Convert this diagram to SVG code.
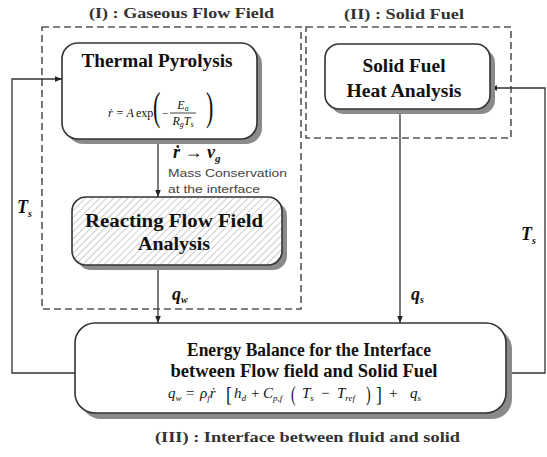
<svg xmlns="http://www.w3.org/2000/svg" width="547" height="457" viewBox="0 0 547 457">
<defs>
<style>
.dash{fill:none;stroke:#555;stroke-width:1.6;stroke-dasharray:7 4}
.box{fill:#fff;stroke:#333;stroke-width:1.6}
.shadow{fill:#8a8a8a;stroke:none}
.conn{fill:none;stroke:#333;stroke-width:1.3}
.title{font-family:"Liberation Serif",serif;font-weight:bold;font-size:14px;fill:#333}
.node{font-family:"Liberation Serif",serif;font-weight:bold;font-size:18px;fill:#111;text-anchor:middle}
.math{font-family:"Liberation Serif",serif;font-style:italic;fill:#111}
.rm{font-family:"Liberation Serif",serif;fill:#111}
.small{font-family:"Liberation Sans",sans-serif;font-size:11px;fill:#444}
</style>
<pattern id="hatch" width="5" height="5" patternUnits="userSpaceOnUse" patternTransform="rotate(45)">
<rect width="5" height="5" fill="#fff"/>
<line x1="0" y1="0" x2="0" y2="5" stroke="#999" stroke-width="1"/>
</pattern>
<marker id="arr" viewBox="0 0 10 10" refX="10" refY="5" markerWidth="7" markerHeight="7" orient="auto" markerUnits="userSpaceOnUse">
<path d="M0,1 L10,5 L0,9 z" fill="#222"/>
</marker>
</defs>

<g id="regions">
<rect class="dash" x="42" y="27" width="259" height="282"/>
<rect class="dash" x="306" y="27" width="205" height="111"/>
<text class="title" x="89" y="18" textLength="185" lengthAdjust="spacingAndGlyphs">(I) : Gaseous Flow Field</text>
<text class="title" x="344" y="19" textLength="120" lengthAdjust="spacingAndGlyphs">(II) : Solid Fuel</text>
<text class="title" x="155" y="442" font-size="15" textLength="305" lengthAdjust="spacingAndGlyphs">(III) : Interface between fluid and solid</text>
</g>

<g id="connectors">
<line class="conn" x1="158" y1="139" x2="158" y2="197" marker-end="url(#arr)"/>
<line class="conn" x1="158" y1="265" x2="158" y2="323" marker-end="url(#arr)"/>
<line class="conn" x1="400" y1="109" x2="400" y2="323" marker-end="url(#arr)"/>
<polyline class="conn" points="75,373 12,373 12,79 62,79" marker-end="url(#arr)"/>
<polyline class="conn" points="506,373 545,373 545,88 490,88" marker-end="url(#arr)"/>
<text class="math" x="173" y="158" font-size="18" font-weight="bold">ṙ → v<tspan font-size="11" dy="4">g</tspan></text>
<text class="small" x="168" y="177" textLength="119" lengthAdjust="spacingAndGlyphs">Mass Conservation</text>
<text class="small" x="168" y="193" textLength="92" lengthAdjust="spacingAndGlyphs">at the interface</text>
<text class="math" x="17" y="213" font-size="18" font-weight="bold">T<tspan font-size="10" dy="4">s</tspan></text>
<text class="math" x="521" y="240" font-size="18" font-weight="bold">T<tspan font-size="10" dy="4">s</tspan></text>
<text class="math" x="172" y="300" font-size="18" font-weight="bold">q<tspan font-size="10" dy="3">w</tspan></text>
<text class="math" x="411" y="300" font-size="18" font-weight="bold">q<tspan font-size="10" dy="3">s</tspan></text>
</g>

<g id="thermal">
<rect class="shadow" x="67" y="48" width="195" height="96" rx="16"/>
<rect class="box" x="62" y="43" width="195" height="96" rx="16"/>
<text class="node" x="157" y="67" textLength="151" lengthAdjust="spacingAndGlyphs">Thermal Pyrolysis</text>
<text class="math" x="108" y="117" font-size="12">ṙ = A</text>
<text class="rm" x="136" y="117" font-size="12">exp</text>
<text class="rm" transform="translate(153,120) scale(0.55,1)" font-size="40" fill="#333">(</text>
<text class="rm" x="162" y="117" font-size="12">−</text>
<text class="math" x="183" y="109" font-size="12" text-anchor="middle">E<tspan font-size="8" dy="2">a</tspan></text>
<line x1="170" y1="113" x2="196" y2="113" stroke="#111" stroke-width="0.8"/>
<text class="math" x="183" y="125" font-size="12" text-anchor="middle">R<tspan font-size="8" dy="2">g</tspan><tspan dy="-2">T</tspan><tspan font-size="8" dy="2">s</tspan></text>
<text class="rm" transform="translate(206,120) scale(0.55,1)" font-size="40" fill="#333">)</text>
</g>

<g id="solid">
<rect class="shadow" x="330" y="49" width="165" height="65" rx="14"/>
<rect class="box" x="325" y="44" width="165" height="65" rx="14"/>
<text class="node" x="404" y="72" textLength="83" lengthAdjust="spacingAndGlyphs">Solid Fuel</text>
<text class="node" x="404" y="97" textLength="115" lengthAdjust="spacingAndGlyphs">Heat Analysis</text>
</g>

<g id="reacting">
<rect class="shadow" x="77" y="202" width="210" height="68" rx="14"/>
<rect class="box" x="72" y="197" width="210" height="68" rx="14" style="fill:url(#hatch)"/>
<text class="node" x="174" y="227" textLength="178" lengthAdjust="spacingAndGlyphs">Reacting Flow Field</text>
<text class="node" x="174" y="250" textLength="72" lengthAdjust="spacingAndGlyphs">Analysis</text>
</g>

<g id="energy">
<rect class="shadow" x="81" y="329" width="431" height="90" rx="20"/>
<rect class="box" x="75" y="323" width="431" height="90" rx="20"/>
<text class="node" x="309" y="356" font-size="17" textLength="244" lengthAdjust="spacingAndGlyphs">Energy Balance for the Interface</text>
<text class="node" x="304" y="377" font-size="17" textLength="267" lengthAdjust="spacingAndGlyphs">between Flow field and Solid Fuel</text>
<g class="math" font-size="15">
<text x="168" y="398">q<tspan font-size="9" dy="3">w</tspan></text>
<text x="186" y="398" style="font-style:normal">=</text>
<text x="200" y="398">ρ<tspan font-size="9" dy="3">f</tspan><tspan dy="-3">ṙ</tspan></text>
<text transform="translate(226,401) scale(0.8,1)" font-size="22" style="font-style:normal">[</text>
<text x="234" y="398">h<tspan font-size="9" dy="3">d</tspan></text>
<text x="251" y="398" style="font-style:normal">+</text>
<text x="263" y="398">C<tspan font-size="9" dy="3">p,f</tspan></text>
<text transform="translate(291,401) scale(0.7,1)" font-size="20" style="font-style:normal">(</text>
<text x="302" y="398">T<tspan font-size="9" dy="3">s</tspan></text>
<text x="321" y="398" style="font-style:normal">−</text>
<text x="337" y="398">T<tspan font-size="9" dy="3">ref</tspan></text>
<text transform="translate(366,401) scale(0.7,1)" font-size="20" style="font-style:normal">)</text>
<text transform="translate(376,401) scale(0.8,1)" font-size="22" style="font-style:normal">]</text>
<text x="389" y="398" style="font-style:normal">+</text>
<text x="410" y="398">q<tspan font-size="9" dy="3">s</tspan></text>
</g>
</g>
</svg>
